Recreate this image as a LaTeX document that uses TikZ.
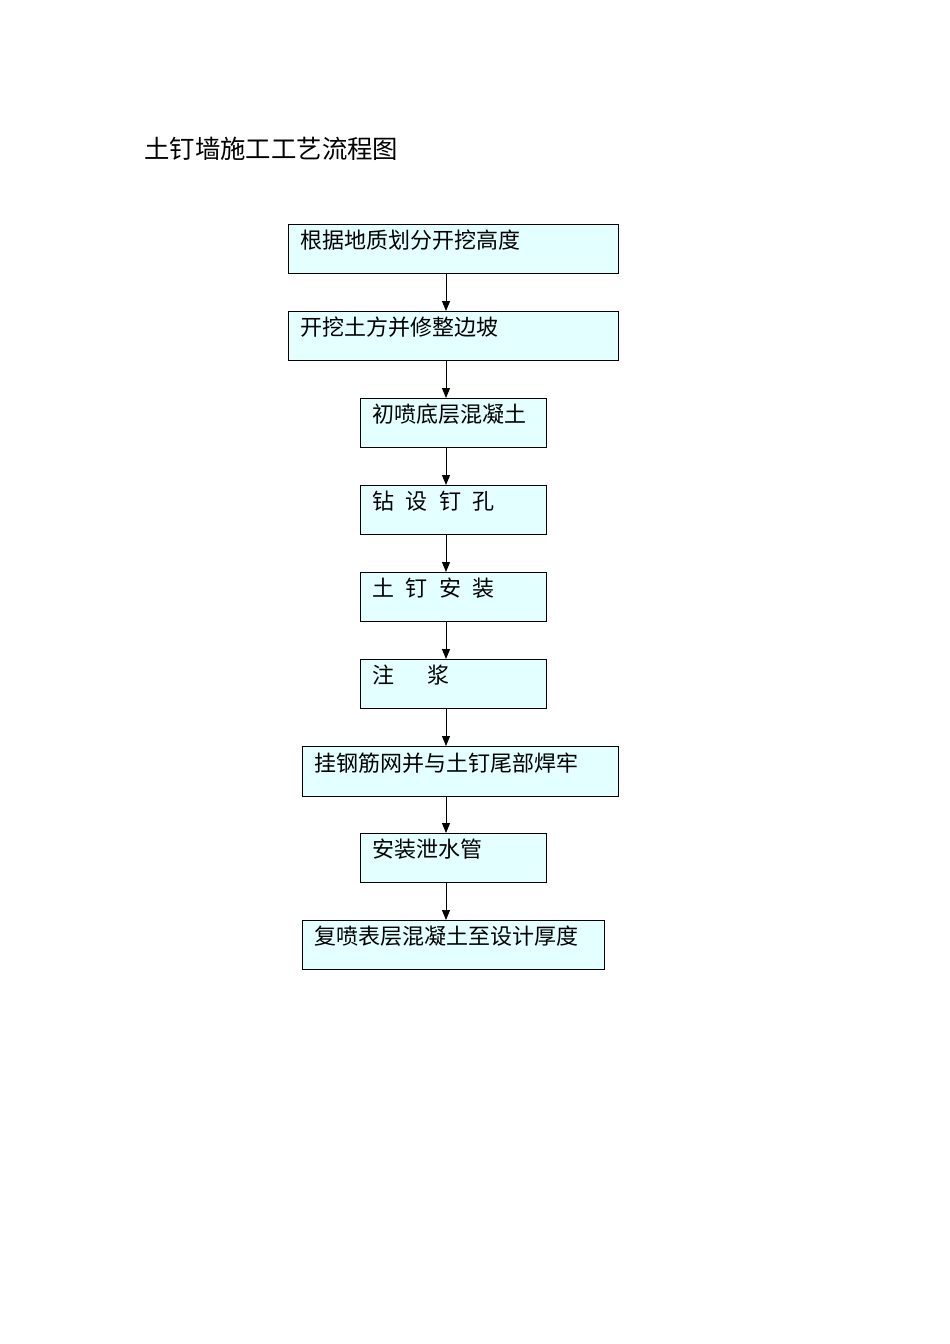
\documentclass[tikz,border=0pt]{standalone}
\usepackage{fontspec}
\newfontfamily\cjk{Noto Sans CJK SC}
\usetikzlibrary{arrows.meta}
\definecolor{boxfill}{HTML}{E4FFFF}
\tikzset{
  flowbox/.style={draw=black, line width=1pt, fill=boxfill, rectangle, inner sep=0pt, anchor=north west},
  boxtxt/.style={anchor=west, inner sep=0pt, font=\cjk\fontsize{22}{22}\selectfont},
  flowarrow/.style={draw=black, line width=1pt, -{Triangle[length=10pt,width=8pt]}}
}
\begin{document}
\begin{tikzpicture}[x=1pt,y=-1pt]
\useasboundingbox (0,0) rectangle (950,1344);
\fill[white] (0,0) rectangle (950,1344);
\node[anchor=west, inner sep=0pt, font=\cjk\fontsize{25.4}{25.4}\selectfont] (title) at (144,149) {土钉墙施工工艺流程图};
% boxes
\node[flowbox, minimum width=330pt, minimum height=49pt] (b1) at (288,224) {};
\node[flowbox, minimum width=330pt, minimum height=49pt] (b2) at (288,311) {};
\node[flowbox, minimum width=186pt, minimum height=49pt] (b3) at (360,398) {};
\node[flowbox, minimum width=186pt, minimum height=49pt] (b4) at (360,485) {};
\node[flowbox, minimum width=186pt, minimum height=49pt] (b5) at (360,572) {};
\node[flowbox, minimum width=186pt, minimum height=49pt] (b6) at (360,659) {};
\node[flowbox, minimum width=316pt, minimum height=50pt] (b7) at (302,746) {};
\node[flowbox, minimum width=186pt, minimum height=49pt] (b8) at (360,833) {};
\node[flowbox, minimum width=302pt, minimum height=49pt] (b9) at (302,920) {};
% texts
\node[boxtxt] (t1) at ([xshift=12pt,yshift=-16.5pt]b1.north west) {根据地质划分开挖高度};
\node[boxtxt] (t2) at ([xshift=12pt,yshift=-16.5pt]b2.north west) {开挖土方并修整边坡};
\node[boxtxt] (t3) at ([xshift=12pt,yshift=-16.5pt]b3.north west) {初喷底层混凝土};
\node[boxtxt] (t4) at ([xshift=12pt,yshift=-16.5pt]b4.north west) {钻\hspace{11.5pt}设\hspace{11.5pt}钉\hspace{11.5pt}孔};
\node[boxtxt] (t5) at ([xshift=12pt,yshift=-16.5pt]b5.north west) {土\hspace{11.5pt}钉\hspace{11.5pt}安\hspace{11.5pt}装};
\node[boxtxt] (t6) at ([xshift=12pt,yshift=-16.5pt]b6.north west) {注\hspace{33pt}浆};
\node[boxtxt] (t7) at ([xshift=12pt,yshift=-17pt]b7.north west) {挂钢筋网并与土钉尾部焊牢};
\node[boxtxt] (t8) at ([xshift=12pt,yshift=-16.5pt]b8.north west) {安装泄水管};
\node[boxtxt] (t9) at ([xshift=12pt,yshift=-16.5pt]b9.north west) {复喷表层混凝土至设计厚度};
% arrows
\coordinate (c1) at (446,273);
\coordinate (c2) at (446,360);
\coordinate (c7) at (446,796);
\coordinate (c8) at (446,882);
\draw[flowarrow] (c1) -- (c1 |- b2.north);
\draw[flowarrow] (c2) -- (c2 |- b3.north);
\draw[flowarrow] (b3.south -| c1) -- (b4.north -| c1);
\draw[flowarrow] (b4.south -| c1) -- (b5.north -| c1);
\draw[flowarrow] (b5.south -| c1) -- (b6.north -| c1);
\draw[flowarrow] (b6.south -| c1) -- (b7.north -| c1);
\draw[flowarrow] (c7) -- (c7 |- b8.north);
\draw[flowarrow] (c8) -- (c8 |- b9.north);
\end{tikzpicture}
\end{document}
